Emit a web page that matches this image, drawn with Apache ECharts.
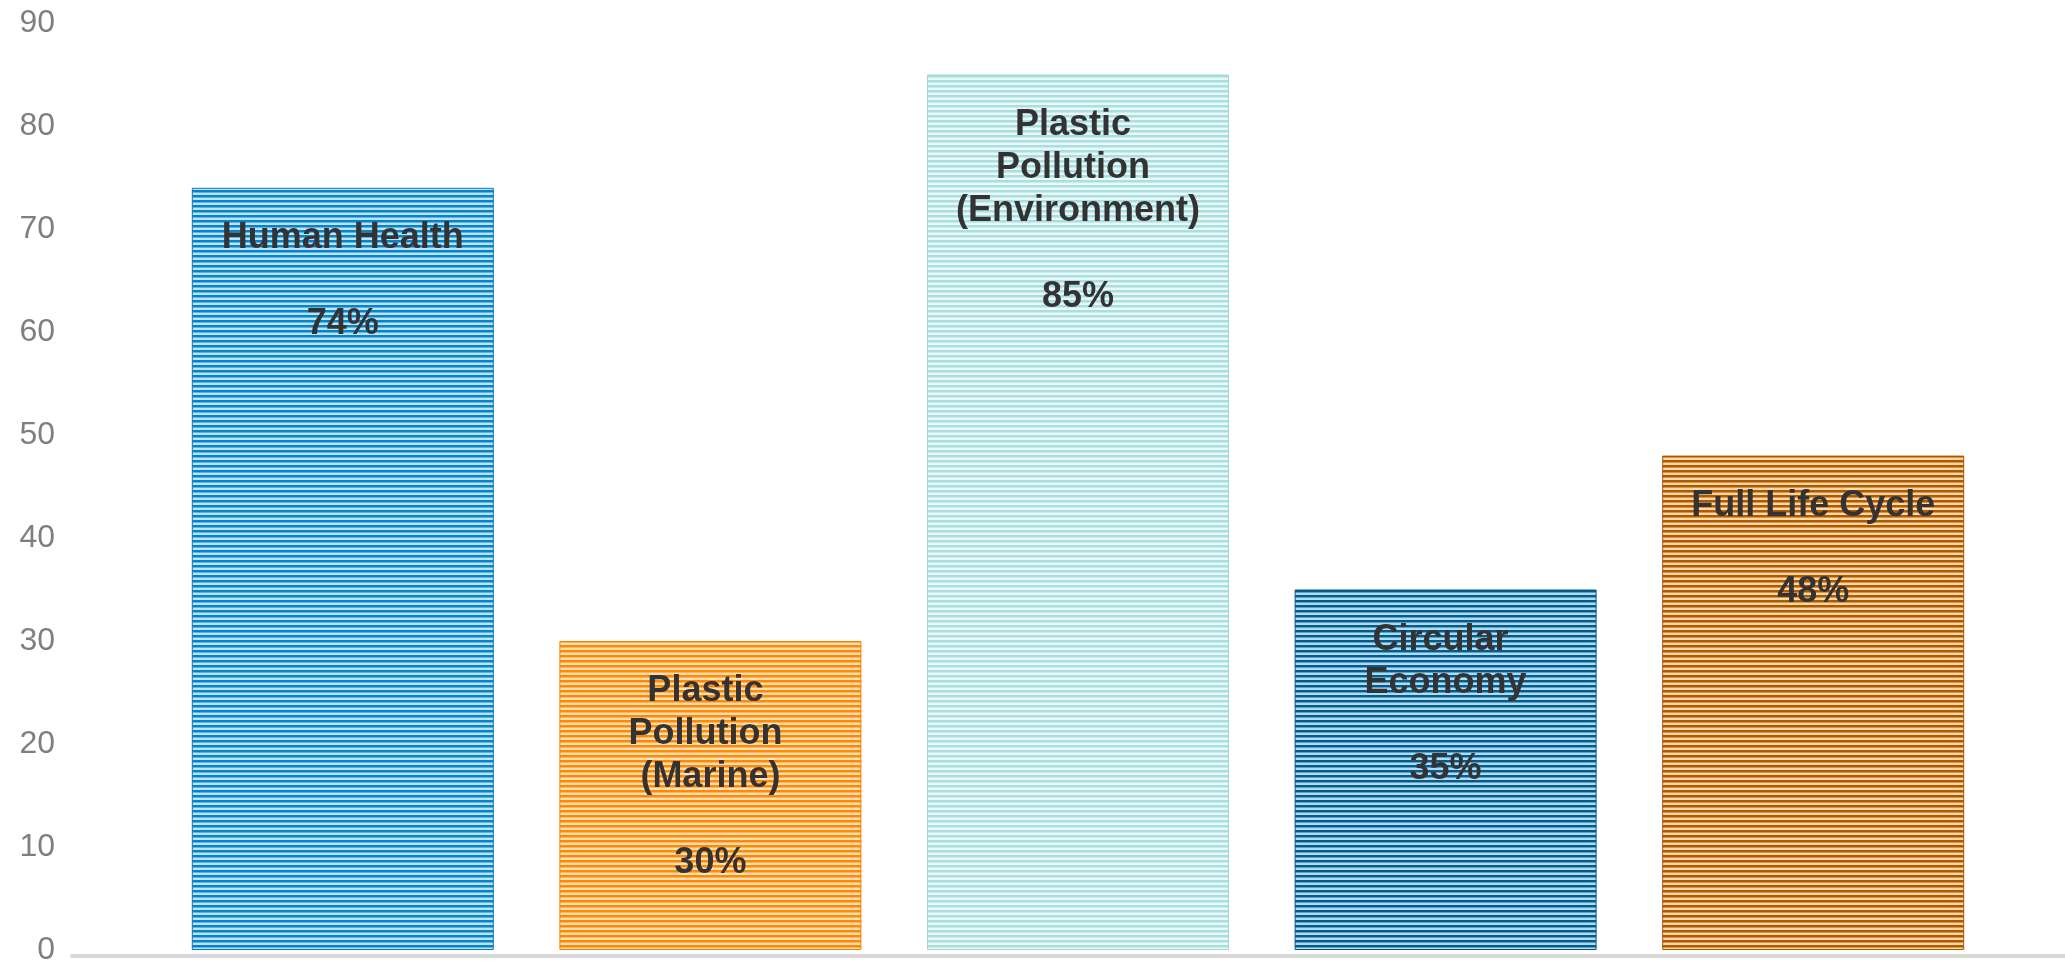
<!DOCTYPE html>
<html>
<head>
<meta charset="utf-8">
<script src="https://cdn.jsdelivr.net/npm/echarts@6/dist/echarts.min.js"></script>
<style>
html,body{margin:0;padding:0;background:#fff;}
#chart{width:2065px;height:966px;}
</style>
</head>
<body>
<div id="chart"></div>
<script>
// ---- data ----
const categories = ['Human Health', 'Plastic Pollution (Marine)', 'Plastic Pollution (Environment)', 'Circular Economy', 'Full Life Cycle'];
const values = [74, 30, 85, 35, 48];
const yMin = 0, yMax = 90, yStep = 10;

// ---- styles ----
const palettes = [
  { dark: '#0784c9', mid: '#5db3e6', light: '#bce3f8', edge: '#0a78b8' },
  { dark: '#ff8900', mid: '#ffb059', light: '#ffdfb6', edge: '#f08000' },
  { dark: '#a9dfe0', mid: '#c8ecec', light: '#ebf8f8', edge: '#a0d8d8' },
  { dark: '#0a5a87', mid: '#56a2cc', light: '#addcf4', edge: '#0a5580' },
  { dark: '#ad5a00', mid: '#da9245', light: '#ffd9ac', edge: '#a55500' }
];
function stripe(p) {
  const c = document.createElement('canvas');
  c.width = 4; c.height = 5;
  const g = c.getContext('2d');
  const rows = [p.dark, p.dark, p.mid, p.light, p.light];
  rows.forEach((col, i) => { g.fillStyle = col; g.fillRect(0, i, 4, 1); });
  return c;
}

const chart = echarts.init(document.getElementById('chart'));
chart.setOption({
  animation: false,
  backgroundColor: '#ffffff',
  grid: [
    { left: 159, right: 68, top: 23, bottom: 10, containLabel: false },
    { left: 72, right: 0, top: 23, bottom: 10, containLabel: false }
  ],
  xAxis: [
    { type: 'category', gridIndex: 0, data: categories, show: false },
    { type: 'value', gridIndex: 1, min: 0, max: 1,
      axisLine: { show: true, lineStyle: { color: '#d9d9d9', width: 4 } },
      axisTick: { show: false }, axisLabel: { show: false }, splitLine: { show: false } }
  ],
  yAxis: [
    { type: 'value', gridIndex: 0, min: yMin, max: yMax, interval: yStep,
      axisLine: { show: false }, axisTick: { show: false }, splitLine: { show: false },
      axisLabel: { color: '#7f7f7f', fontSize: 32, fontFamily: 'Liberation Sans, Arial, sans-serif', margin: 104 } },
    { type: 'value', gridIndex: 1, min: yMin, max: yMax, show: false }
  ],
  series: [{
    type: 'bar',
    xAxisIndex: 0, yAxisIndex: 0,
    barWidth: 302,
    z: 3,
    data: values.map((v, i) => ({
      value: v,
      itemStyle: {
        color: { image: stripe(palettes[i]), repeat: 'repeat' },
        borderColor: palettes[i].edge, borderWidth: 1
      }
    })),
    label: {
      show: true,
      position: 'insideTop',
      distance: 29,
      formatter: p => p.name + '\n\n' + p.value + '%',
      width: 265,
      overflow: 'break',
      align: 'center',
      fontSize: 36,
      fontWeight: 'bold',
      fontFamily: 'Liberation Sans, Arial, sans-serif',
      color: '#333333',
      lineHeight: 43
    }
  }]
});
</script>
</body>
</html>
